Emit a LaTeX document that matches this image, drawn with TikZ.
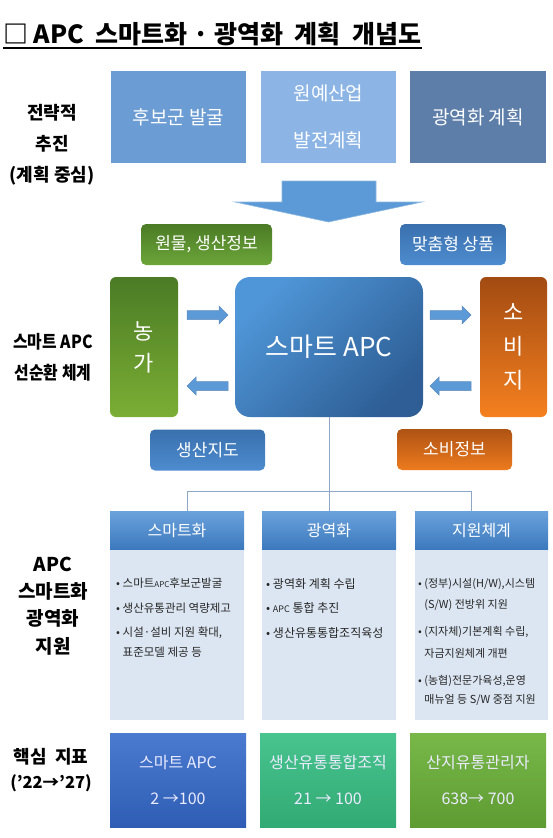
\documentclass[tikz,border=0pt]{standalone}
\usepackage{fontspec}
\setmainfont{Noto Sans CJK KR}
\newfontfamily\hdfont{Noto Sans CJK KR}[FakeStretch=0.88]
\usetikzlibrary{positioning}

\definecolor{topA}{HTML}{6C9CD4}
\definecolor{topB}{HTML}{8CB5E5}
\definecolor{topC}{HTML}{5C7EA9}
\definecolor{bigArr}{HTML}{5B9AD6}
\definecolor{grnT}{HTML}{4B7B25}
\definecolor{grnB}{HTML}{6CA53A}
\definecolor{bluT}{HTML}{3A70AE}
\definecolor{bluB}{HTML}{4D8CCF}
\definecolor{orgT}{HTML}{A24B12}
\definecolor{orgB}{HTML}{F5801F}
\definecolor{apcL}{HTML}{4F96D8}
\definecolor{apcR}{HTML}{2E5E95}
\definecolor{hdT}{HTML}{6AA2DC}
\definecolor{hdB}{HTML}{3B78BD}
\definecolor{bodyC}{HTML}{DCE6F2}
\definecolor{linkC}{HTML}{8FA7C6}
\definecolor{kpiAT}{HTML}{4A7BD0}
\definecolor{kpiAB}{HTML}{2F5DB5}
\definecolor{kpiBT}{HTML}{48C48E}
\definecolor{kpiBB}{HTML}{32AA74}
\definecolor{kpiCT}{HTML}{78B748}
\definecolor{kpiCB}{HTML}{5E9C33}

\begin{document}
\begin{tikzpicture}[x=1pt, y=-1pt,
    box/.style={inner sep=0pt, outer sep=0pt, align=center, text=white},
    lbl/.style={inner sep=0pt, align=center},
    tag/.style={box, rounded corners=5pt, minimum height=41pt, font=\fontsize{17pt}{20pt}\selectfont},
    hd/.style={box, minimum width=134pt, minimum height=39pt, top color=hdT, bottom color=hdB,
        font=\fontsize{16pt}{20pt}\selectfont},
    body/.style={inner sep=0pt, fill=bodyC, minimum width=134pt, minimum height=170pt},
    pts/.style={inner sep=0pt, anchor=north west, align=left, text=black!85},
    kpi/.style={box, minimum width=136pt, minimum height=94pt, text=white!92!blue,
        font=\fontsize{16pt}{36pt}\selectfont},
    link/.style={draw=linkC, line width=1pt},
    barrow/.pic={\filldraw[fill=bigArr, draw=bluT!80, line width=0.5pt]
        (0,-4.5) -- (32,-4.5) -- (32,-9) -- (41,0) -- (32,9) -- (32,4.5) -- (0,4.5) -- cycle;}]
  \useasboundingbox (0,0) rectangle (553,838);

  % title
  \node[anchor=base west, inner sep=0pt, font=\bfseries\fontsize{25pt}{29pt}\selectfont]
    (title) at (3,43) {□ APC\ \ 스마트화 · 광역화\ \ 계획\ \ 개념도};
  \draw[line width=1.3pt] ([yshift=-5pt]title.base west) -- ([yshift=-5pt]title.base east);

  % row labels
  \node[lbl, font=\bfseries\fontsize{18pt}{31pt}\selectfont] (lStrat) at (52,145) {전략적\\추진\\(계획\ 중심)};
  \node[lbl, font=\hdfont\bfseries\fontsize{18pt}{31pt}\selectfont] (lCycle) at (53,357) {스마트\ APC\\선순환\ 체계};
  \node[lbl, font=\bfseries\fontsize{19pt}{27.3pt}\selectfont] (lSup) at (53,606) {APC\\스마트화\\광역화\\지원};
  \node[lbl, font=\bfseries\fontsize{18pt}{26pt}\selectfont] (lKpi) at (51,757) {핵심\ \ 지표};
  \node[lbl, font=\bfseries\fontsize{16.5pt}{20pt}\selectfont] (lYear) at (51,783) {(’22→’27)};

  % strategy boxes
  \node[box, fill=topA, minimum width=135pt, minimum height=92pt, font=\fontsize{19pt}{22pt}\selectfont]
    (plan1) at (178.5,117) {후보군 발굴};
  \node[box, fill=topB, minimum width=135pt, minimum height=92pt, font=\fontsize{19pt}{47pt}\selectfont]
    (plan2) at (328.5,117) {원예산업\\발전계획};
  \node[box, fill=topC, minimum width=136pt, minimum height=92pt, font=\fontsize{19pt}{22pt}\selectfont]
    (plan3) at (478,117) {광역화 계획};

  % big arrow
  \filldraw[fill=bigArr, draw=bigArr!70!white, line width=0.6pt]
    (282,181) -- (376,181) -- (376,202) -- (422,202) -- (328.5,222) -- (235,202) -- (282,202) -- cycle;

  % circulation system
  \node[tag, top color=grnT, bottom color=grnB, minimum width=131pt] (raw) at (206.5,244.5) {원물, 생산정보};
  \node[tag, top color=bluT, bottom color=bluB, minimum width=106pt] (goods) at (453,244.5) {맞춤형 상품};
  \node[box, rounded corners=6pt, top color=grnT, bottom color=grnB!90!yellow, minimum width=68pt, minimum height=140pt,
    font=\fontsize{22pt}{32pt}\selectfont] (farm) at (144,347) {농\\가};
  \node[box, rounded corners=15pt, top color=apcL, bottom color=apcR, shading angle=45,
    minimum width=188pt, minimum height=140pt, font=\fontsize{26pt}{30pt}\selectfont] (apc) at (329,347) {스마트 APC};
  \node[box, rounded corners=6pt, top color=orgT, bottom color=orgB, minimum width=67pt, minimum height=140pt,
    font=\fontsize{22pt}{34pt}\selectfont] (cons) at (513.5,347) {소\\비\\지};
  \node[tag, top color=bluT, bottom color=bluB, minimum width=115pt] (guide) at (207.5,450) {생산지도};
  \node[tag, top color=orgT!85!orgB, bottom color=orgB!90!orgT, minimum width=115pt] (cinfo) at (454.5,449.5) {소비정보};

  \pic at (187,315) {barrow};
  \pic[rotate=180] at (228,386) {barrow};
  \pic at (430,315) {barrow};
  \pic[rotate=180] at (471,386) {barrow};

  % support
  \node[hd] (hd1) at (177,530.5) {스마트화};
  \node[hd] (hd2) at (329,530.5) {광역화};
  \node[hd, minimum width=133pt] (hd3) at (481.5,530.5) {지원체계};
  \node[body, below=0pt of hd1] (body1) {};
  \node[body, below=0pt of hd2] (body2) {};
  \node[body, minimum width=133pt, below=0pt of hd3] (body3) {};

  \coordinate (jL) at (187,491);
  \coordinate (jR) at (471,491);
  \draw[link] (apc.south) -- (apc.south |- jL);
  \draw[link] (jL) -- (jR);
  \draw[link] (jL) -- (jL |- hd1.north);
  \draw[link] (apc.south |- jL) -- (hd2.north);
  \draw[link] (jR) -- (jR |- hd3.north);

  \node[pts, font=\fontsize{11.5pt}{20pt}\selectfont] (pts1) at (116,578)
    {• 스마트{\fontsize{8pt}{8pt}\selectfont APC}후보군발굴\\[4.5pt]
     • 생산유통관리 역량제고\\[4.5pt]
     • 시설·설비 지원 확대,\\
     \hphantom{• }표준모델 제공 등};
  \node[pts, font=\fontsize{12pt}{20pt}\selectfont] (pts2) at (266,578)
    {• 광역화 계획 수립\\[4.5pt]
     • {\fontsize{9pt}{9pt}\selectfont APC} 통합 추진\\[4.5pt]
     • 생산유통통합조직육성};
  \node[pts, font=\fontsize{11pt}{21.5pt}\selectfont] (pts3) at (418,578)
    {• (정부)시설(H/W),시스템\\
     \hphantom{• }(S/W) 전방위 지원\\[5.5pt]
     • (지자체)기본계획 수립,\\
     \hphantom{• }자금지원체계 개편\\[5.5pt]
     • (농협)전문가육성,운영\\[-2.5pt]
     \hphantom{• }매뉴얼 등 S/W 중점 지원};

  % key indicators
  \node[kpi, top color=kpiAT, bottom color=kpiAB] (kpi1) at (178,780) {스마트 APC\\2 →100};
  \node[kpi, top color=kpiBT, bottom color=kpiBB] (kpi2) at (328,780) {생산유통통합조직\\21 → 100};
  \node[kpi, top color=kpiCT, bottom color=kpiCB] (kpi3) at (478,780) {산지유통관리자\\638→ 700};
\end{tikzpicture}
\end{document}
